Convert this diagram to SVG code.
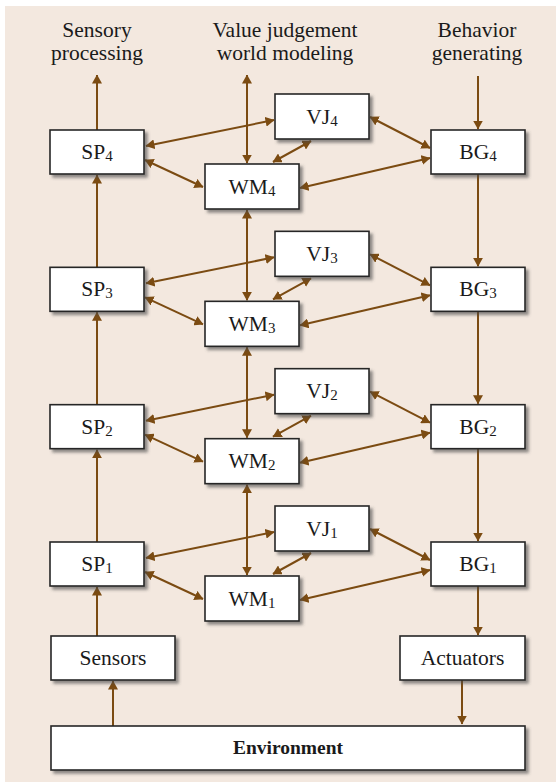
<svg xmlns="http://www.w3.org/2000/svg" width="556" height="782" viewBox="0 0 556 782">
<defs>
<style>
.bx{fill:#fff;stroke:#262626;stroke-width:1.6;filter:url(#sh)}
.lb{font-family:"Liberation Serif","Times New Roman",serif;font-size:21.5px;fill:#1a1a1a;text-anchor:middle}
.sub{font-size:15px}
.hd{font-family:"Liberation Serif","Times New Roman",serif;font-size:21.5px;fill:#1a1a1a;text-anchor:middle}
.c{stroke:#7b4b12;stroke-width:2;fill:none}
.e{marker-end:url(#ah)}
.d{marker-start:url(#ah);marker-end:url(#ah)}
</style>
<filter id="sh" x="-10%" y="-10%" width="130%" height="140%">
<feDropShadow dx="3" dy="3" stdDeviation="1.6" flood-color="#4a4a4a" flood-opacity="0.6"/>
</filter>
<marker id="ah" viewBox="0 0 9 10" refX="8.5" refY="5" markerWidth="9" markerHeight="10" markerUnits="userSpaceOnUse" orient="auto-start-reverse">
<path d="M0,0 L9,5 L0,10 z" fill="#7b4b12"/>
</marker>
</defs>
<rect x="5" y="6" width="551" height="776" fill="#f3e8df"/>

<g id="headers">
<text class="hd" x="97" y="37">Sensory</text>
<text class="hd" x="97" y="60">processing</text>
<text class="hd" x="285" y="37">Value judgement</text>
<text class="hd" x="285" y="60">world modeling</text>
<text class="hd" x="477" y="37">Behavior</text>
<text class="hd" x="477" y="60">generating</text>
</g>

<g id="connectors">
<line class="c e" x1="97" y1="130" x2="97" y2="75"/>
<line class="c e" x1="97" y1="267.3" x2="97" y2="175"/>
<line class="c e" x1="97" y1="404.7" x2="97" y2="312.3"/>
<line class="c e" x1="97" y1="542" x2="97" y2="449.7"/>
<line class="c e" x1="97" y1="636" x2="97" y2="587"/>
<line class="c e" x1="113" y1="726" x2="113" y2="681"/>
<line class="c d" x1="247" y1="75" x2="247" y2="163"/>
<line class="c d" x1="247" y1="210" x2="247" y2="300.3"/>
<line class="c d" x1="247" y1="347.3" x2="247" y2="437.7"/>
<line class="c d" x1="247" y1="484.7" x2="247" y2="575"/>
<line class="c e" x1="478" y1="76" x2="478" y2="129"/>
<line class="c e" x1="478" y1="174" x2="478" y2="266.3"/>
<line class="c e" x1="478" y1="311.3" x2="478" y2="403.7"/>
<line class="c e" x1="478" y1="448.7" x2="478" y2="541"/>
<line class="c e" x1="478" y1="586" x2="478" y2="635"/>
<line class="c e" x1="462" y1="680" x2="462" y2="724"/>
<g transform="translate(0,0)">
<line class="c d" x1="146" y1="146" x2="274" y2="120"/>
<line class="c d" x1="145" y1="160" x2="203" y2="187"/>
<line class="c d" x1="311" y1="141" x2="273" y2="162"/>
<line class="c d" x1="370" y1="117" x2="430" y2="148"/>
<line class="c d" x1="300" y1="188" x2="430" y2="158"/>
</g>
<g transform="translate(0,137.33)">
<line class="c d" x1="146" y1="146" x2="274" y2="120"/>
<line class="c d" x1="145" y1="160" x2="203" y2="187"/>
<line class="c d" x1="311" y1="141" x2="273" y2="162"/>
<line class="c d" x1="370" y1="117" x2="430" y2="148"/>
<line class="c d" x1="300" y1="188" x2="430" y2="158"/>
</g>
<g transform="translate(0,274.67)">
<line class="c d" x1="146" y1="146" x2="274" y2="120"/>
<line class="c d" x1="145" y1="160" x2="203" y2="187"/>
<line class="c d" x1="311" y1="141" x2="273" y2="162"/>
<line class="c d" x1="370" y1="117" x2="430" y2="148"/>
<line class="c d" x1="300" y1="188" x2="430" y2="158"/>
</g>
<g transform="translate(0,412)">
<line class="c d" x1="146" y1="146" x2="274" y2="120"/>
<line class="c d" x1="145" y1="160" x2="203" y2="187"/>
<line class="c d" x1="311" y1="141" x2="273" y2="162"/>
<line class="c d" x1="370" y1="117" x2="430" y2="148"/>
<line class="c d" x1="300" y1="188" x2="430" y2="158"/>
</g>
</g>

<g id="SP4"><rect class="bx" x="50" y="130" width="94" height="44"/><text class="lb" x="97" y="159">SP<tspan class="sub" dy="2">4</tspan></text></g>
<g id="VJ4"><rect class="bx" x="275" y="94" width="94" height="45"/><text class="lb" x="322" y="123.5">VJ<tspan class="sub" dy="2">4</tspan></text></g>
<g id="WM4"><rect class="bx" x="205" y="164" width="94" height="45"/><text class="lb" x="252" y="193.5">WM<tspan class="sub" dy="2">4</tspan></text></g>
<g id="BG4"><rect class="bx" x="431" y="130" width="94" height="44"/><text class="lb" x="478" y="159">BG<tspan class="sub" dy="2">4</tspan></text></g>

<g id="SP3"><rect class="bx" x="50" y="267.33" width="94" height="44"/><text class="lb" x="97" y="296.33">SP<tspan class="sub" dy="2">3</tspan></text></g>
<g id="VJ3"><rect class="bx" x="275" y="231.33" width="94" height="45"/><text class="lb" x="322" y="260.83">VJ<tspan class="sub" dy="2">3</tspan></text></g>
<g id="WM3"><rect class="bx" x="205" y="301.33" width="94" height="45"/><text class="lb" x="252" y="330.83">WM<tspan class="sub" dy="2">3</tspan></text></g>
<g id="BG3"><rect class="bx" x="431" y="267.33" width="94" height="44"/><text class="lb" x="478" y="296.33">BG<tspan class="sub" dy="2">3</tspan></text></g>

<g id="SP2"><rect class="bx" x="50" y="404.67" width="94" height="44"/><text class="lb" x="97" y="433.67">SP<tspan class="sub" dy="2">2</tspan></text></g>
<g id="VJ2"><rect class="bx" x="275" y="368.67" width="94" height="45"/><text class="lb" x="322" y="398.17">VJ<tspan class="sub" dy="2">2</tspan></text></g>
<g id="WM2"><rect class="bx" x="205" y="438.67" width="94" height="45"/><text class="lb" x="252" y="468.17">WM<tspan class="sub" dy="2">2</tspan></text></g>
<g id="BG2"><rect class="bx" x="431" y="404.67" width="94" height="44"/><text class="lb" x="478" y="433.67">BG<tspan class="sub" dy="2">2</tspan></text></g>

<g id="SP1"><rect class="bx" x="50" y="542" width="94" height="44"/><text class="lb" x="97" y="571">SP<tspan class="sub" dy="2">1</tspan></text></g>
<g id="VJ1"><rect class="bx" x="275" y="506" width="94" height="45"/><text class="lb" x="322" y="535.5">VJ<tspan class="sub" dy="2">1</tspan></text></g>
<g id="WM1"><rect class="bx" x="205" y="576" width="94" height="45"/><text class="lb" x="252" y="605.5">WM<tspan class="sub" dy="2">1</tspan></text></g>
<g id="BG1"><rect class="bx" x="431" y="542" width="94" height="44"/><text class="lb" x="478" y="571">BG<tspan class="sub" dy="2">1</tspan></text></g>

<g id="Sensors"><rect class="bx" x="51" y="636" width="124" height="44"/><text class="lb" x="113" y="665">Sensors</text></g>
<g id="Actuators"><rect class="bx" x="400" y="636" width="125" height="44"/><text class="lb" x="462.5" y="665">Actuators</text></g>
<g id="Environment"><rect class="bx" x="51" y="726" width="474" height="44"/><text class="lb" x="288" y="754" style="font-weight:bold;font-size:19.5px">Environment</text></g>
</svg>
